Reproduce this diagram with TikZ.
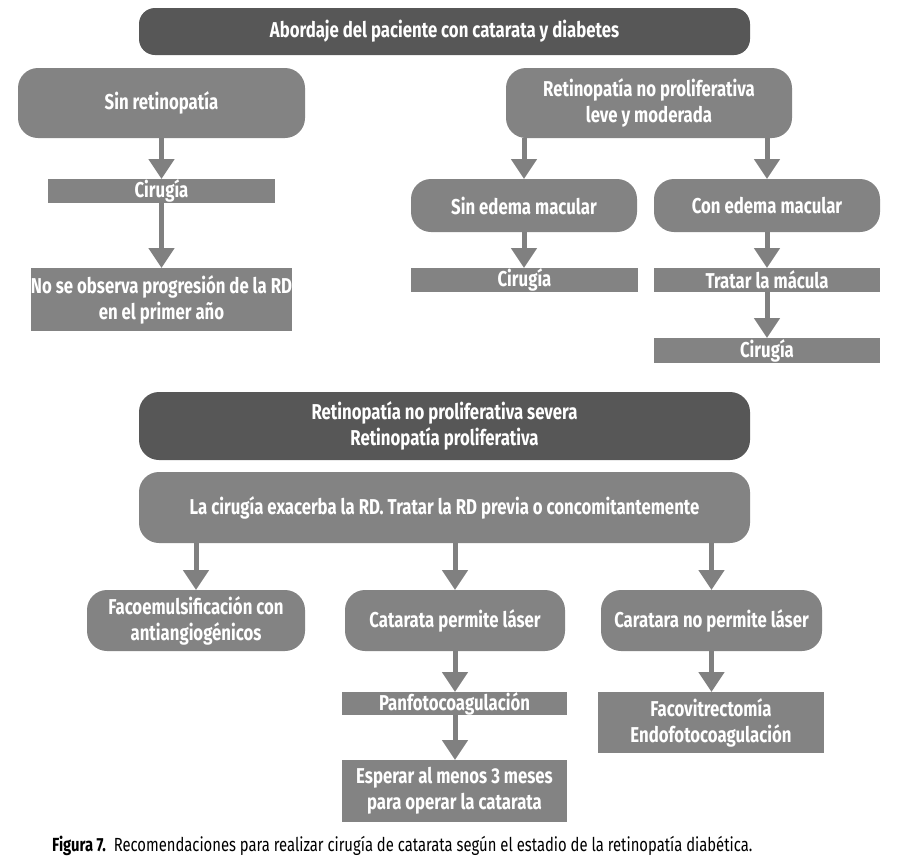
\documentclass[tikz,border=0pt]{standalone}
\usepackage{fontspec}
\setmainfont{Fira Sans}[FakeStretch=0.78]
\usetikzlibrary{arrows.meta}
\definecolor{darkbox}{HTML}{575757}
\definecolor{midbox}{HTML}{838383}
\definecolor{arrowc}{HTML}{808080}
\tikzset{
  base/.style={text=white, font=\fontsize{21.5}{26}\selectfont\bfseries, align=center, inner sep=0pt, outer sep=0pt},
  darkround/.style={base, fill=darkbox, rounded corners=16pt},
  midround/.style={base, fill=midbox, rounded corners=20pt},
  midrect/.style={base, fill=midbox},
  flow/.style={draw=arrowc, line width=5pt, -{Triangle[width=25pt,length=20pt]}, shorten >=0pt},
}
\begin{document}
\begin{tikzpicture}[x=1pt,y=-1pt]
\useasboundingbox (0,0) rectangle (900,865);
\node[darkround, minimum width=611pt, minimum height=47pt] (title) at (444.5,31.5) {Abordaje del paciente con catarata y diabetes};
\node[midround, minimum width=287pt, minimum height=70pt] (sinret) at (161.5,103) {Sin retinopatía};
\node[midround, minimum width=286pt, minimum height=70pt] (rnp) at (649,103) {Retinopatía no proliferativa\\leve y moderada};
\node[midrect, minimum width=227pt, minimum height=24pt] (cir1) at (161.5,191) {Cirugía};
\node[midrect, minimum width=261pt, minimum height=63pt] (noobs) at (161.5,299.5) {No se observa progresión de la RD\\en el primer año};
\node[midround, minimum width=226pt, minimum height=53pt] (sinedema) at (524,205.5) {Sin edema macular};
\node[midround, minimum width=226pt, minimum height=53pt] (conedema) at (767,205.5) {Con edema macular};
\node[midrect, minimum width=227pt, minimum height=24pt] (cir2) at (524.5,280) {Cirugía};
\node[midrect, minimum width=226pt, minimum height=24pt] (tratar) at (767,280) {Tratar la mácula};
\node[midrect, minimum width=226pt, minimum height=25pt] (cir3) at (767,350.5) {Cirugía};
\node[darkround, rounded corners=20pt, minimum width=611pt, minimum height=68pt] (severa) at (444.5,426) {Retinopatía no proliferativa severa\\Retinopatía proliferativa};
\node[midround, minimum width=611pt, minimum height=71pt] (exacerba) at (444.5,507.5) {La cirugía exacerba la RD. Tratar la RD previa o concomitantemente};
\node[midround, minimum width=218pt, minimum height=61pt] (faco) at (196,620.5) {Facoemulsificación con\\antiangiogénicos};
\node[midround, minimum width=220pt, minimum height=61pt] (permite) at (455,620.5) {Catarata permite láser};
\node[midround, minimum width=221pt, minimum height=61pt] (nopermite) at (711.5,620.5) {Caratara no permite láser};
\node[midrect, minimum width=225pt, minimum height=23pt] (panfo) at (454.5,703.5) {Panfotocoagulación};
\node[midrect, minimum width=225pt, minimum height=62pt] (esperar) at (454.5,791) {Esperar al menos 3 meses\\para operar la catarata};
\node[midrect, minimum width=226pt, minimum height=61pt] (facovit) at (711,722.5) {Facovitrectomía\\Endofotocoagulación};
\node[anchor=west, inner sep=0pt, font=\fontsize{19}{22}\selectfont] (caption) at (52,846) {\textbf{Figura 7.}\ \ Recomendaciones para realizar cirugía de catarata según el estadio de la retinopatía diabética.};
\draw[flow] (sinret.south) -- (cir1.north);
\draw[flow] (cir1.south) -- (noobs.north);
\draw[flow] (rnp.south -| sinedema.north) -- (sinedema.north);
\draw[flow] (rnp.south -| conedema.north) -- (conedema.north);
\draw[flow] (sinedema.south) -- (cir2.north -| sinedema.south);
\draw[flow] (conedema.south) -- (tratar.north -| conedema.south);
\draw[flow] (tratar.south) -- (cir3.north);
\draw[flow] (exacerba.south -| faco.north) -- (faco.north);
\draw[flow] (exacerba.south -| permite.north) -- (permite.north);
\draw[flow] (exacerba.south -| nopermite.north) -- (nopermite.north);
\draw[flow] (permite.south) -- (panfo.north -| permite.south);
\draw[flow] (panfo.south -| permite.south) -- (esperar.north -| permite.south);
\draw[flow] (nopermite.south) -- (facovit.north -| nopermite.south);
\end{tikzpicture}
\end{document}
